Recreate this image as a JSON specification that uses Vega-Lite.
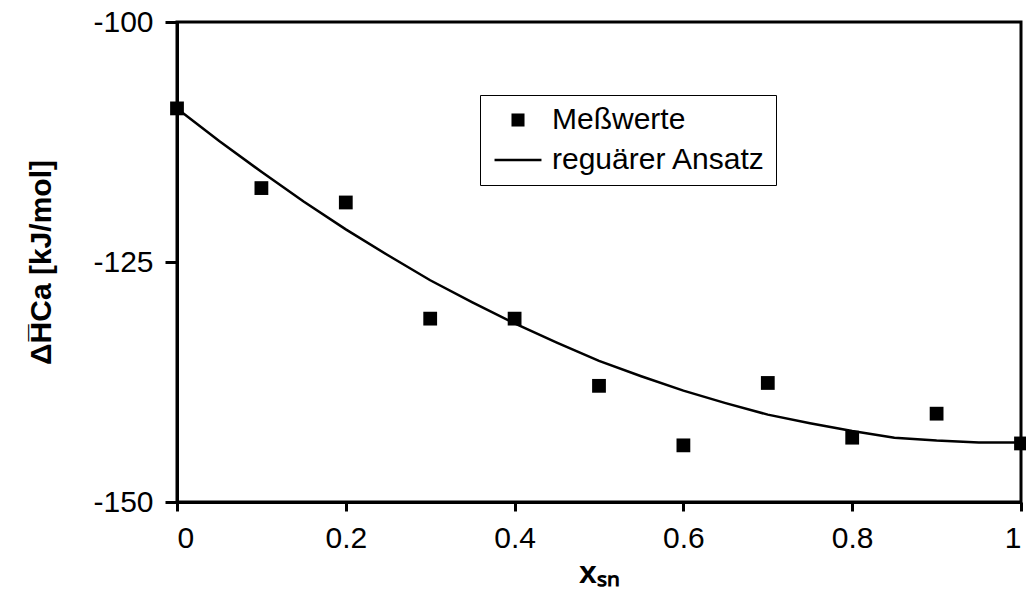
{
  "$schema": "https://vega.github.io/schema/vega-lite/v6.json",
  "width": 844,
  "height": 480,
  "autosize": "none",
  "padding": {"left": 177, "top": 22, "right": 5, "bottom": 99},
  "background": "white",
  "config": {
    "font": "Liberation Sans",
    "view": {"stroke": "black", "strokeWidth": 3},
    "axis": {
      "domainColor": "black", "domainWidth": 3, "tickColor": "black", "tickWidth": 3,
      "grid": false, "labelColor": "black", "labelFontSize": 30, "labelFont": "Liberation Sans",
      "titleColor": "black", "titleFont": "Liberation Sans", "titleFontWeight": "bold", "titleFontSize": 30
    }
  },
  "datasets": {
    "meas": [
      {"x": 0.0, "y": -109.0, "series": "Meßwerte"},
      {"x": 0.1, "y": -117.3, "series": "Meßwerte"},
      {"x": 0.2, "y": -118.8, "series": "Meßwerte"},
      {"x": 0.3, "y": -130.9, "series": "Meßwerte"},
      {"x": 0.4, "y": -130.9, "series": "Meßwerte"},
      {"x": 0.5, "y": -137.9, "series": "Meßwerte"},
      {"x": 0.6, "y": -144.1, "series": "Meßwerte"},
      {"x": 0.7, "y": -137.6, "series": "Meßwerte"},
      {"x": 0.8, "y": -143.3, "series": "Meßwerte"},
      {"x": 0.9, "y": -140.8, "series": "Meßwerte"},
      {"x": 1.0, "y": -143.9, "series": "Meßwerte"}
    ],
    "fit": [
      {"x": 0.0, "y": -109.0},
      {"x": 0.05, "y": -112.4},
      {"x": 0.1, "y": -115.6},
      {"x": 0.15, "y": -118.7},
      {"x": 0.2, "y": -121.6},
      {"x": 0.25, "y": -124.3},
      {"x": 0.3, "y": -126.9},
      {"x": 0.35, "y": -129.2},
      {"x": 0.4, "y": -131.4},
      {"x": 0.45, "y": -133.4},
      {"x": 0.5, "y": -135.3},
      {"x": 0.55, "y": -136.9},
      {"x": 0.6, "y": -138.4},
      {"x": 0.65, "y": -139.7},
      {"x": 0.7, "y": -140.9},
      {"x": 0.75, "y": -141.8},
      {"x": 0.8, "y": -142.6},
      {"x": 0.85, "y": -143.3},
      {"x": 0.9, "y": -143.6},
      {"x": 0.95, "y": -143.8},
      {"x": 1.0, "y": -143.8}
    ]
  },
  "layer": [
    {
      "data": {"name": "fit"},
      "mark": {"type": "line", "color": "black", "strokeWidth": 2.5},
      "encoding": {
        "x": {"field": "x", "type": "quantitative", "scale": {"domain": [0, 1], "nice": false},
          "axis": {"values": [0, 0.2, 0.4, 0.6, 0.8, 1], "format": "~g", "tickSize": 9, "labelPadding": 12, "title": "xₛₙ", "titlePadding": 4, "titleFontSize": 32}},
        "y": {"field": "y", "type": "quantitative", "scale": {"domain": [-150, -100], "nice": false},
          "axis": {"values": [-150, -125, -100], "labelExpr": "'' + datum.value", "tickSize": 12, "labelPadding": 12, "title": "ΔH̅Ca [kJ/mol]", "titlePadding": 36}}
      }
    },
    {
      "data": {"name": "meas"},
      "mark": {"type": "point", "filled": true, "color": "black", "size": 190, "opacity": 1},
      "encoding": {
        "x": {"field": "x", "type": "quantitative"},
        "y": {"field": "y", "type": "quantitative"},
        "shape": {
          "field": "series", "type": "nominal",
          "scale": {"domain": ["Meßwerte", "reguärer Ansatz"], "range": ["square", "M-3.6,-0.2H3.6V0.2H-3.6Z"]},
          "legend": {
            "title": null, "orient": "none", "legendX": 303, "legendY": 73,
            "strokeColor": "black", "fillColor": "white", "padding": 10,
            "labelFontSize": 30, "labelFont": "Liberation Sans", "labelColor": "black", "labelLimit": 500,
            "labelOffset": 19, "rowPadding": 10, "symbolOffset": 13,
            "symbolSize": 170, "symbolFillColor": "black", "symbolStrokeColor": "black", "symbolStrokeWidth": 1, "symbolOpacity": 1
          }
        }
      }
    }
  ]
}
